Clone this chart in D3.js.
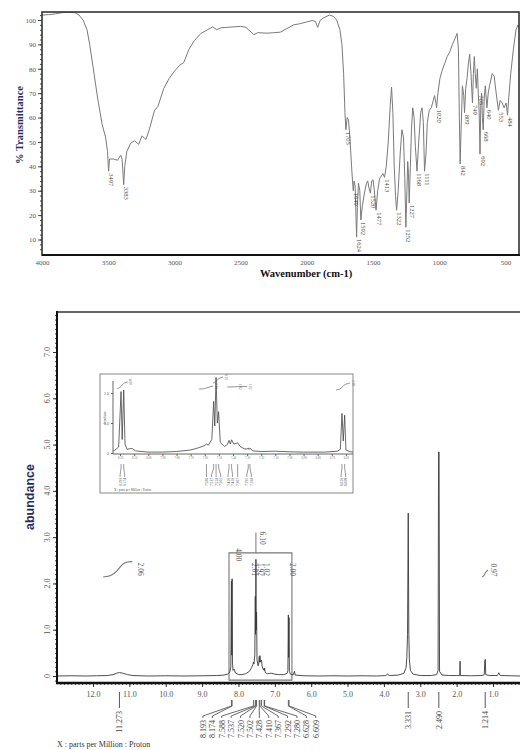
<!DOCTYPE html>
<html>
<head>
<meta charset="utf-8">
<script src="https://cdn.jsdelivr.net/npm/d3@7"></script>
<style>
  body { margin: 0; background: #fff; }
  text { font-family: "Liberation Serif", "DejaVu Serif", serif; }
</style>
</head>
<body>
<svg></svg>
<script>
// ---------------- data: IR spectrum (wavenumber, %T) ----------------
const irTrace = [
  [4000, 102], [3950, 102.2], [3900, 102.5], [3850, 103], [3800, 103.2], [3750, 103], [3720, 102],
  [3690, 100], [3660, 96], [3640, 90], [3615, 81], [3580, 68], [3545, 57], [3520, 52], [3505, 46],
  [3497, 38], [3490, 43], [3460, 43], [3430, 42.5], [3405, 44.5], [3395, 43], [3383, 32.5],
  [3375, 40], [3360, 46], [3330, 49.5], [3300, 50.5], [3270, 49], [3245, 52.5], [3215, 51],
  [3190, 55], [3150, 63], [3125, 64.5], [3080, 72], [3040, 76], [3000, 79], [2960, 81.5],
  [2930, 82.5], [2890, 88], [2850, 91.5], [2800, 94.5], [2750, 96], [2710, 97.2], [2680, 96],
  [2650, 96.8], [2600, 97], [2550, 97.2], [2500, 97.4], [2460, 97], [2430, 95.5], [2400, 94],
  [2370, 94.8], [2300, 94.6], [2250, 94.8], [2200, 95], [2150, 96.5], [2100, 98], [2050, 98.5],
  [2000, 99.2], [1960, 99.8], [1935, 99.4], [1918, 97], [1900, 99.8], [1870, 101], [1830, 102],
  [1800, 101.5], [1775, 100], [1750, 96], [1735, 90], [1722, 78], [1712, 62], [1705, 55],
  [1695, 60], [1685, 59], [1675, 52], [1662, 40], [1655, 34], [1649, 30], [1643, 34], [1635, 32],
  [1629, 20], [1624, 11], [1618, 24], [1610, 33], [1600, 30], [1592, 18], [1580, 24], [1565, 29],
  [1550, 33], [1540, 34], [1530, 31], [1520, 29], [1510, 34], [1500, 34.5], [1490, 30],
  [1477, 22], [1465, 30], [1450, 35], [1425, 37], [1413, 35.5], [1400, 40], [1385, 50],
  [1370, 65], [1360, 72.5], [1350, 62], [1340, 40], [1330, 28], [1322, 22], [1310, 30],
  [1295, 45], [1282, 55], [1270, 52], [1260, 35], [1252, 15], [1244, 30], [1238, 42], [1232, 37],
  [1227, 25], [1218, 40], [1210, 55], [1200, 64], [1190, 60], [1180, 48], [1168, 38], [1155, 50],
  [1140, 62], [1130, 64], [1120, 58], [1111, 38], [1100, 45], [1090, 58], [1075, 63], [1060, 64],
  [1045, 67], [1035, 69], [1025, 66], [1020, 64], [1010, 70], [995, 76], [980, 79], [960, 82],
  [940, 85], [920, 87], [900, 90], [880, 92.5], [865, 94.5], [855, 88], [848, 60], [842, 41],
  [835, 55], [825, 73], [815, 69], [809, 62], [800, 72], [790, 76], [780, 82], [770, 86],
  [760, 78], [749, 66], [742, 78], [735, 85], [728, 78], [720, 72], [712, 80], [705, 70],
  [698, 62], [692, 45], [686, 65], [680, 70], [674, 60], [668, 55], [660, 68], [652, 73],
  [640, 64], [630, 70], [620, 73], [600, 78], [585, 77], [570, 70], [553, 63], [540, 67],
  [525, 66], [510, 64], [495, 66], [484, 61], [475, 68], [460, 78], [440, 88], [420, 96],
  [405, 98], [390, 96]
];
const irPeaks = [3497, 3383, 1705, 1649, 1624, 1592, 1520, 1477, 1413, 1322, 1252, 1227,
  1168, 1111, 1020, 842, 809, 749, 705, 692, 668, 640, 553, 484];
const irXTicks = [4000, 3500, 3000, 2500, 2000, 1500, 1000, 500];
const irYTicks = [10, 20, 30, 40, 50, 60, 70, 80, 90, 100];

// ---------------- data: 1H NMR spectrum (ppm, abundance) ----------------
const nmrTrace = [
  [13.0, 0], [12.6, 0.005], [12.2, 0], [11.9, 0.005], [11.6, 0.01], [11.45, 0.03], [11.35, 0.06],
  [11.27, 0.075], [11.18, 0.06], [11.05, 0.03], [10.9, 0.01], [10.5, 0], [10.0, 0.005], [9.5, 0],
  [9.0, 0.005], [8.6, 0.01], [8.4, 0.02], [8.3, 0.04], [8.24, 0.08], [8.21, 0.2], [8.193, 2.05],
  [8.185, 0.45], [8.174, 2.1], [8.165, 0.3], [8.15, 0.12], [8.125, 0.15], [8.11, 0.14],
  [8.09, 0.07], [8.0, 0.03], [7.9, 0.03], [7.8, 0.05], [7.7, 0.1], [7.64, 0.18], [7.6, 0.25],
  [7.588, 0.3], [7.575, 0.26], [7.55, 0.45], [7.537, 1.72], [7.529, 0.9], [7.52, 2.52],
  [7.511, 1.0], [7.502, 1.38], [7.49, 0.35], [7.46, 0.22], [7.44, 0.28], [7.428, 0.42],
  [7.419, 0.3], [7.41, 0.44], [7.395, 0.3], [7.38, 0.32], [7.367, 0.34], [7.35, 0.22],
  [7.32, 0.14], [7.3, 0.13], [7.292, 0.17], [7.286, 0.12], [7.28, 0.16], [7.26, 0.07],
  [7.2, 0.05], [7.1, 0.06], [7.0, 0.04], [6.9, 0.03], [6.75, 0.03], [6.66, 0.06], [6.64, 0.12],
  [6.628, 1.32], [6.619, 0.4], [6.609, 1.26], [6.6, 0.1], [6.57, 0.04], [6.5, 0.02], [6.46, 0.1],
  [6.44, 0.02], [6.2, 0.005], [5.8, 0], [5.4, 0.005], [5.0, 0], [4.6, 0.005], [4.2, 0],
  [3.95, 0.01], [3.9, 0.04], [3.85, 0.01], [3.6, 0.02], [3.45, 0.06], [3.39, 0.18], [3.37, 0.4],
  [3.35, 0.9], [3.331, 3.52], [3.315, 0.9], [3.3, 0.35], [3.27, 0.12], [3.2, 0.04], [3.0, 0.01],
  [2.7, 0.01], [2.55, 0.03], [2.51, 0.12], [2.497, 4.84], [2.483, 4.84], [2.47, 0.1], [2.4, 0.02],
  [2.2, 0.01], [2.0, 0.01], [1.915, 0.01], [1.906, 0.32], [1.897, 0.01], [1.6, 0.005], [1.3, 0.01],
  [1.24, 0.03], [1.225, 0.34], [1.21, 0.36], [1.2, 0.03], [1.1, 0.01], [0.88, 0.01], [0.84, 0.07],
  [0.8, 0.01], [0.5, 0.005], [0.25, 0]
];
const nmrXTicks = [12, 11, 10, 9, 8, 7, 6, 5, 4, 3, 2, 1];
const nmrYTicks = [0, 1, 2, 3, 4, 5, 6, 7];
const multipletShifts = [8.193, 8.174, 7.588, 7.537, 7.520, 7.502, 7.428, 7.410, 7.367, 7.292, 7.280, 6.628, 6.609];
const singleShifts = [11.273, 3.331, 2.490, 1.214];

// integrals (ppm, running level)
const integralNH = [[11.72, 2.14], [11.5, 2.16], [11.35, 2.25], [11.2, 2.42], [11.05, 2.47], [10.92, 2.47]];
const integralCH3 = [[1.30, 2.14], [1.25, 2.16], [1.2, 2.25], [1.14, 2.29]];
const aromaticBox = [8.26, 6.53];
const aromaticLevels = [-0.09, 2.66];
const integralTags = [
  ["2.06", 10.70, 2.31], ["4.00", 8.02, 2.62], ["6.10", 7.36, 2.98], ["2.01", 7.57, 2.30],
  ["1.92", 7.41, 2.30], ["1.02", 7.25, 2.30], ["2.00", 6.53, 2.30], ["0.97", 1.01, 2.29]
];

// inset integrals (ppm, level)
const insetIntegrals = [
  ["4.00", [[8.22, 2.15], [8.2, 2.17], [8.185, 2.27], [8.17, 2.35], [8.145, 2.37]]],
  ["2.01", [[7.64, 2.13], [7.6, 2.14], [7.57, 2.2], [7.54, 2.23]]],
  ["6.10", [[7.54, 2.33], [7.52, 2.38], [7.5, 2.5], [7.47, 2.53]]],
  ["1.92", [[7.44, 2.2], [7.37, 2.21]]],
  ["1.02", [[7.37, 2.21], [7.30, 2.22]]],
  ["2.00", [[6.67, 2.1], [6.64, 2.12], [6.62, 2.25], [6.59, 2.32], [6.57, 2.33]]]
];

// ---------------- drawing ----------------
const W = 520, H = 750;
const svg = d3.select('svg').attr('width', W).attr('height', H);

function spread(xs, gap) {
  let cl = xs.map(x => ({ sum: x, n: 1 }));
  let merged = true;
  while (merged) {
    merged = false;
    for (let i = 0; i < cl.length - 1; i++) {
      const a = cl[i], b = cl[i + 1];
      const aR = a.sum / a.n + (a.n - 1) * gap / 2;
      const bL = b.sum / b.n - (b.n - 1) * gap / 2;
      if (bL - aR < gap) {
        cl.splice(i, 2, { sum: a.sum + b.sum, n: a.n + b.n });
        merged = true;
        break;
      }
    }
  }
  const out = [];
  cl.forEach(c => {
    const c0 = c.sum / c.n - (c.n - 1) * gap / 2;
    for (let k = 0; k < c.n; k++) out.push(c0 + k * gap);
  });
  return out;
}

// ===== IR =====
const irX = d3.scaleLinear().domain([4000, 390]).range([42, 520]);
const irY = d3.scaleLinear().domain([100, 10]).range([20, 239.5]);

svg.append('clipPath').attr('id', 'irclip')
  .append('rect').attr('x', 42).attr('y', 12).attr('width', 477).attr('height', 243);

// minor + major y ticks
svg.append('g').attr('transform', 'translate(42,0)')
  .call(d3.axisLeft(irY).tickValues(d3.range(6, 104, 2)).tickSize(2).tickFormat(''))
  .call(g => g.select('.domain').remove())
  .selectAll('line').attr('stroke', '#444');
svg.append('g').attr('transform', 'translate(42,0)')
  .call(d3.axisLeft(irY).tickValues(irYTicks).tickSize(4).tickPadding(2))
  .call(g => g.select('.domain').remove())
  .call(g => g.selectAll('line').attr('stroke', '#444'))
  .selectAll('text').attr('font-size', 7).attr('fill', '#555')
  .attr('font-family', '"Liberation Serif", serif');

svg.append('g').attr('transform', 'translate(0,255)')
  .call(d3.axisBottom(irX).tickValues(irXTicks).tickSize(0).tickPadding(5).tickFormat(d3.format('d')))
  .call(g => g.select('.domain').remove())
  .selectAll('text').attr('font-size', 7).attr('fill', '#555')
  .attr('font-family', '"Liberation Serif", serif');

svg.append('path').datum(irTrace)
  .attr('clip-path', 'url(#irclip)')
  .attr('fill', 'none').attr('stroke', '#7a7a7a').attr('stroke-width', 1)
  .attr('d', d3.line().x(d => irX(d[0])).y(d => irY(d[1])));

svg.append('rect').attr('x', 42).attr('y', 12).attr('width', 477).attr('height', 243)
  .attr('fill', 'none').attr('stroke', '#333').attr('stroke-width', 1.6);
svg.append('line').attr('x1', 42).attr('x2', 520).attr('y1', 255).attr('y2', 255)
  .attr('stroke', '#111').attr('stroke-width', 2.2);

const irLookup = new Map(irTrace);
svg.append('g').selectAll('text').data(irPeaks).join('text')
  .attr('transform', d => `translate(${irX(d) + 0.5},${irY(irLookup.get(d)) + 2}) rotate(90)`)
  .attr('font-size', 6.5).attr('fill', '#444')
  .text(d => d);

svg.append('text').attr('x', 306).attr('y', 277).attr('text-anchor', 'middle')
  .attr('font-size', 10.5).attr('font-weight', 'bold').attr('fill', '#111')
  .text('Wavenumber (cm-1)');
svg.append('text').attr('transform', 'translate(23,125) rotate(-90)').attr('text-anchor', 'middle')
  .attr('font-size', 10.5).attr('font-weight', 'bold').attr('fill', '#1f2d5c')
  .text('% Transmittance');

// ===== NMR main =====
const nX = d3.scaleLinear().domain([12, 1]).range([93, 493]);
const nY = d3.scaleLinear().domain([0, 7]).range([676, 352]);

svg.append('clipPath').attr('id', 'nclip')
  .append('rect').attr('x', 57).attr('y', 312).attr('width', 463).attr('height', 371);

svg.append('g').attr('transform', 'translate(0,683)')
  .call(d3.axisBottom(nX).tickValues(d3.range(3, 130).map(d => d / 10)).tickSize(2).tickFormat(''))
  .call(g => g.select('.domain').remove())
  .selectAll('line').attr('stroke', '#444');
svg.append('g').attr('transform', 'translate(0,683)')
  .call(d3.axisBottom(nX).tickValues(nmrXTicks).tickSize(4).tickPadding(4).tickFormat(d3.format('.1f')))
  .call(g => g.select('.domain').remove())
  .call(g => g.selectAll('line').attr('stroke', '#333'))
  .selectAll('text').attr('font-size', 8).attr('fill', '#555')
  .attr('font-family', '"Liberation Serif", serif');

svg.append('g').attr('transform', 'translate(57,0)')
  .call(d3.axisLeft(nY).tickValues(d3.range(-1, 79).map(d => d / 10)).tickSize(2).tickFormat(''))
  .call(g => g.select('.domain').remove())
  .selectAll('line').attr('stroke', '#444');
svg.append('g').attr('transform', 'translate(57,0)')
  .call(d3.axisLeft(nY).tickValues(nmrYTicks).tickSize(4).tickFormat(''))
  .call(g => g.select('.domain').remove())
  .selectAll('line').attr('stroke', '#333');
svg.append('g').selectAll('text').data(nmrYTicks).join('text')
  .attr('transform', d => `translate(50,${nY(d)}) rotate(-90)`)
  .attr('text-anchor', 'middle').attr('font-size', 8).attr('fill', '#555')
  .text(d => d === 0 ? '0' : d3.format('.1f')(d));

// integral box around aromatic region
const boxPath = d3.path();
boxPath.moveTo(nX(aromaticBox[0]), nY(aromaticLevels[0]));
boxPath.lineTo(nX(aromaticBox[0]), nY(aromaticLevels[1]));
boxPath.lineTo(nX(aromaticBox[1]), nY(aromaticLevels[1]));
boxPath.lineTo(nX(aromaticBox[1]), nY(aromaticLevels[0]));
boxPath.closePath();
svg.append('path').attr('d', boxPath.toString())
  .attr('fill', 'none').attr('stroke', '#777').attr('stroke-width', 1.1);
svg.append('line')
  .attr('x1', nX(7.52)).attr('x2', nX(7.52)).attr('y1', nY(aromaticLevels[1])).attr('y2', nY(3.1))
  .attr('stroke', '#777').attr('stroke-width', 1);

const intLine = d3.line().x(d => nX(d[0])).y(d => nY(d[1])).curve(d3.curveBasis);
[integralNH, integralCH3].forEach(c => {
  svg.append('path').datum(c).attr('d', intLine)
    .attr('fill', 'none').attr('stroke', '#777').attr('stroke-width', 1.1);
});
svg.append('g').selectAll('text').data(integralTags).join('text')
  .attr('transform', d => `translate(${nX(d[1]) - 2},${nY(d[2])}) rotate(90)`)
  .attr('text-anchor', 'middle').attr('font-size', 7.5).attr('fill', '#555')
  .text(d => d[0]);

svg.append('path').datum(nmrTrace)
  .attr('clip-path', 'url(#nclip)')
  .attr('fill', 'none').attr('stroke', '#3a3a3a').attr('stroke-width', 0.9)
  .attr('d', d3.line().x(d => nX(d[0])).y(d => nY(d[1])));

svg.append('line').attr('x1', 57).attr('x2', 520).attr('y1', 312).attr('y2', 312)
  .attr('stroke', '#333').attr('stroke-width', 1.6);
svg.append('line').attr('x1', 57).attr('x2', 57).attr('y1', 311).attr('y2', 684)
  .attr('stroke', '#111').attr('stroke-width', 2);
svg.append('line').attr('x1', 56).attr('x2', 520).attr('y1', 683).attr('y2', 683)
  .attr('stroke', '#111').attr('stroke-width', 2.6);

// peak labels under the axis
const fanX = spread(multipletShifts.map(nX), 9.4);
const fan = svg.append('g').attr('stroke', '#444').attr('stroke-width', 0.8).attr('fill', 'none');
multipletShifts.forEach((p, i) => {
  fan.append('path').attr('d', `M${nX(p)},700V706L${fanX[i]},716V718`);
});
svg.append('g').selectAll('text').data(multipletShifts).join('text')
  .attr('transform', (d, i) => `translate(${fanX[i] + 3},720) rotate(-90)`)
  .attr('text-anchor', 'end').attr('font-size', 8).attr('fill', '#444')
  .text(d => d3.format('.3f')(d));

singleShifts.forEach(p => {
  svg.append('line').attr('x1', nX(p)).attr('x2', nX(p)).attr('y1', 692).attr('y2', 708)
    .attr('stroke', '#444').attr('stroke-width', 0.9);
});
svg.append('g').selectAll('text').data(singleShifts).join('text')
  .attr('transform', d => `translate(${nX(d) + 3},711) rotate(-90)`)
  .attr('text-anchor', 'end').attr('font-size', 8).attr('fill', '#444')
  .text(d => d3.format('.3f')(d));

svg.append('text').attr('x', 57).attr('y', 747).attr('font-size', 8).attr('fill', '#333')
  .text('X : parts per Million : Proton');

svg.append('text').attr('transform', 'translate(34,497) rotate(-90)').attr('text-anchor', 'middle')
  .attr('font-size', 12.5).attr('font-weight', 'bold').attr('fill', '#1f2d5c')
  .style('font-family', '"Liberation Sans", Arial, sans-serif')
  .text('abundance');

// ===== NMR inset =====
const iX = d3.scaleLinear().domain([8.25, 6.55]).range([113, 353]);
const iY = d3.scaleLinear().domain([0, 2]).range([453, 393]);

svg.append('rect').attr('x', 100).attr('y', 374).attr('width', 253).attr('height', 119)
  .attr('fill', '#fff').attr('stroke', '#888').attr('stroke-width', 1);
svg.append('clipPath').attr('id', 'iclip')
  .append('rect').attr('x', 113).attr('y', 376).attr('width', 240).attr('height', 79);

svg.append('g').attr('transform', 'translate(0,454)')
  .call(d3.axisBottom(iX).tickValues(d3.range(66, 83).map(d => d / 10)).tickSize(2).tickPadding(1).tickFormat(d3.format('.2f')))
  .call(g => g.select('.domain').remove())
  .call(g => g.selectAll('line').attr('stroke', '#666'))
  .selectAll('text').attr('font-size', 3).attr('fill', '#777');
svg.append('g').attr('transform', 'translate(113,0)')
  .call(d3.axisLeft(iY).tickValues([0, 1, 2]).tickSize(2).tickPadding(2).tickFormat(d => d === 0 ? '0' : d3.format('.1f')(d)))
  .call(g => g.select('.domain').remove())
  .call(g => g.selectAll('line').attr('stroke', '#666'))
  .selectAll('text').attr('font-size', 4).attr('fill', '#666');

const iLine = d3.line().x(d => iX(d[0])).y(d => iY(d[1])).curve(d3.curveBasis);
insetIntegrals.forEach(([lab, pts]) => {
  svg.append('path').datum(pts).attr('d', iLine)
    .attr('fill', 'none').attr('stroke', '#777').attr('stroke-width', 0.8);
  const last = pts[pts.length - 1];
  svg.append('text')
    .attr('transform', `translate(${iX(last[0]) + 1.5},${iY(last[1])}) rotate(90)`)
    .attr('text-anchor', 'middle').attr('font-size', 3.5).attr('fill', '#666')
    .text(lab);
});

svg.append('path').datum(nmrTrace.filter(d => d[0] <= 8.4 && d[0] >= 6.4))
  .attr('clip-path', 'url(#iclip)')
  .attr('fill', 'none').attr('stroke', '#444').attr('stroke-width', 0.8)
  .attr('d', d3.line().x(d => iX(d[0])).y(d => iY(d[1])));

svg.append('line').attr('x1', 113).attr('x2', 113).attr('y1', 381).attr('y2', 454)
  .attr('stroke', '#555').attr('stroke-width', 0.9);
svg.append('line').attr('x1', 113).attr('x2', 353).attr('y1', 454).attr('y2', 454)
  .attr('stroke', '#555').attr('stroke-width', 0.9);

const iFanX = spread(multipletShifts.map(iX), 4.6);
const iFan = svg.append('g').attr('stroke', '#555').attr('stroke-width', 0.6).attr('fill', 'none');
multipletShifts.forEach((p, i) => {
  iFan.append('path').attr('d', `M${iX(p)},464V468L${iFanX[i]},475V477`);
});
svg.append('g').selectAll('text').data(multipletShifts).join('text')
  .attr('transform', (d, i) => `translate(${iFanX[i] + 1.5},478) rotate(-90)`)
  .attr('text-anchor', 'end').attr('font-size', 3.6).attr('fill', '#555')
  .text(d => d3.format('.3f')(d));

svg.append('text').attr('x', 114).attr('y', 491).attr('font-size', 3.2).attr('fill', '#555')
  .text('X : parts per Million : Proton');
svg.append('text').attr('transform', 'translate(106,418) rotate(-90)').attr('text-anchor', 'middle')
  .attr('font-size', 3.2).attr('fill', '#555').text('abundance');
</script>
</body>
</html>
